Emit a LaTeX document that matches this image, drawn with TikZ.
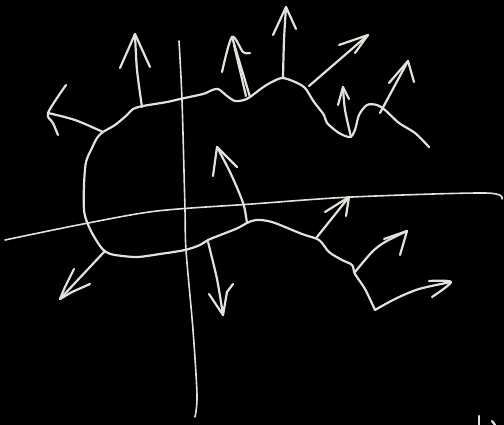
\documentclass[tikz,border=0pt]{standalone}
\usetikzlibrary{arrows.meta, calc}
\definecolor{cboard}{HTML}{000000}
\definecolor{cchalk}{HTML}{E2E2DC}
\tikzset{
  every picture/.style={line cap=round, line join=round},
  chalk/.style={draw=cchalk, line width=2.2pt},
  axisline/.style={draw=cchalk, line width=1.6pt},
  headline/.style={draw=cchalk, line width=2.2pt},
}

\begin{document}
\begin{tikzpicture}[x=1pt, y=-1pt]
  \fill[cboard] (0,0) rectangle (504,425);
  \useasboundingbox (0,0) rectangle (504,425);
  % axes
  \draw[axisline] plot[smooth, tension=0.5] coordinates {(179,41) (182,100) (185,210) (186,250) (193,330) (197,395) (195,417)};
  \draw[axisline] plot[smooth, tension=0.5] coordinates {(5,240) (83,224) (157,211) (252,204) (352,197) (485,193) (502,199)};
  % outline of the region
  \draw[chalk] plot[smooth, tension=0.5] coordinates {(429,147) (415,133) (399,123) (385,110) (377,105) (367,105) (359,115) (355,130) (350,137) (339,133) (327,123) (324,115) (314,102) (305,88) (295,82) (282,78) (270,83) (262,88) (250,97) (244,100) (235,101) (227,96) (218,89) (210,91) (203,94) (180,99) (167,102) (143,106) (133,109) (127,115) (115,125) (103,132) (97,138) (92,148) (86,162) (84,185) (84,210) (87,222) (92,233) (100,246) (106,252) (115,255) (137,257) (160,254) (185,250) (200,245) (208,240) (223,234) (238,228) (247,223) (256,220) (272,222) (302,234) (319,240) (329,252) (342,260) (352,265) (355,274) (365,289) (375,310)};
  % arrows, stem then head
  \draw[chalk] plot[smooth] coordinates {(103,132) (75,120) (48,113)};
  \draw[headline] plot[smooth] coordinates {(66,85) (48,113) (53,123) (58,135)};
  \draw[chalk] plot[smooth] coordinates {(142,107) (137,70) (135,34)};
  \draw[headline] (120,68) -- (135,34) -- (150,67);
  \draw[chalk] (250,97) -- (232,37);
  \draw[chalk] (246,96) -- (234,45);
  \draw[headline] plot[smooth] coordinates {(222,72) (232,37) (243,52) (250,53)};
  \draw[chalk] plot[smooth] coordinates {(283,78) (284,40) (286,7)};
  \draw[headline] (273,35) -- (286,7) -- (296,29);
  \draw[chalk] (309,86) -- (368,35);
  \draw[headline] (339,45) -- (368,35) -- (355,53);
  \draw[chalk] plot[smooth] coordinates {(351,137) (345,110) (343,87)};
  \draw[headline] (338,105) -- (343,87) -- (349,99);
  \draw[chalk] (380,113) -- (408,61);
  \draw[headline] (389,83) -- (408,61) -- (414,82);
  \draw[chalk] plot[smooth] coordinates {(247,223) (244,206) (238,190) (229,170) (217,147)};
  \draw[headline] (213,176) -- (217,147) -- (237,167);
  \draw[chalk] (317,237) -- (349,197);
  \draw[headline] (325,212) -- (349,197) -- (346,216);
  \draw[chalk] plot[smooth] coordinates {(355,272) (372,252) (385,242) (407,231)};
  \draw[headline] (384,239) -- (407,231) -- (400,255);
  \draw[chalk] plot[smooth] coordinates {(375,310) (395,299) (419,289) (451,282)};
  \draw[headline] plot[smooth] coordinates {(429,281) (451,282) (432,297)};
  \draw[chalk] (104,252) -- (60,299);
  \draw[headline] (74,269) -- (65,287) -- (60,299) -- (72,292) -- (90,284);
  \draw[chalk] plot[smooth] coordinates {(208,242) (217,279) (223,315)};
  \draw[headline] (209,294) -- (223,315) -- (227,292) -- (233,284);
  % marks at the lower right edge
  \draw[chalk] (479,416) -- (479,425);
  \draw[chalk] (492,421) -- (495,425);
\end{tikzpicture}
\end{document}
